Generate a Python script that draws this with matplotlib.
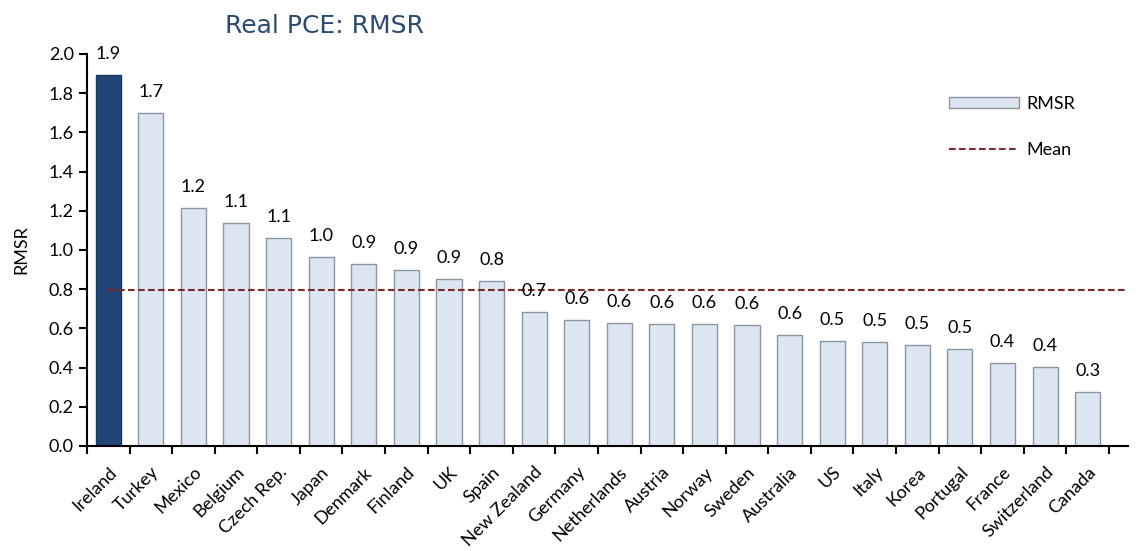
import matplotlib.pyplot as plt
import numpy as np
from matplotlib.patches import Patch
from matplotlib.lines import Line2D

plt.rcParams["font.family"] = ["Lato", "DejaVu Sans"]

countries = [
    "Ireland", "Turkey", "Mexico", "Belgium", "Czech Rep.", "Japan",
    "Denmark", "Finland", "UK", "Spain", "New Zealand", "Germany",
    "Netherlands", "Austria", "Norway", "Sweden", "Australia", "US",
    "Italy", "Korea", "Portugal", "France", "Switzerland", "Canada",
]
rmsr = [
    1.893, 1.699, 1.214, 1.138, 1.061, 0.964,
    0.929, 0.898, 0.852, 0.843, 0.684, 0.643,
    0.628, 0.622, 0.622, 0.617, 0.566, 0.536,
    0.531, 0.515, 0.495, 0.423, 0.403, 0.276,
]
highlight = "Ireland"

light = "#DCE6F2"
dark = "#1F4677"
edge = "#8C949E"
mean_col = "#7B2B2E"
fs = 13

mean_val = np.mean(rmsr)
x = np.arange(len(countries))
x_right = len(countries) - 0.05

fig = plt.figure(figsize=(11.43, 5.51), dpi=100)
ax = fig.add_axes([0.0761, 0.1906, 0.987 - 0.0761, 0.902 - 0.1906])

colors = [dark if c == highlight else light for c in countries]
edges = ["#1A3A63" if c == highlight else edge for c in countries]
ax.bar(x, rmsr, width=0.59, color=colors, edgecolor=edges, linewidth=1.0, zorder=2)
ax.plot([0, x_right], [mean_val, mean_val], color=mean_col, lw=1.5,
        dashes=(3.2, 1.6), zorder=3)

for xi, v in zip(x, rmsr):
    ax.text(xi, v + 0.065, f"{v:.1f}", ha="center", va="bottom", fontsize=fs)

ax.set_xlim(-0.5, x_right)
ax.set_ylim(0, 2.0)
ax.set_yticks(np.arange(0, 2.01, 0.2))
ax.set_yticklabels([f"{t:.1f}" for t in np.arange(0, 2.01, 0.2)], fontsize=fs)
ax.set_xticks(x)
ax.set_xticklabels(countries, rotation=45, ha="right", rotation_mode="anchor",
                   fontsize=fs)
ax.set_xticks(np.arange(-0.5, len(countries), 1), minor=True)
ax.tick_params(axis="x", which="major", length=0, pad=13)
ax.tick_params(axis="x", which="minor", length=6, width=1.5, direction="out")
ax.tick_params(axis="y", length=6, width=1.5, direction="out")
ax.set_ylabel("RMSR", fontsize=fs, labelpad=14)

for s in ["top", "right"]:
    ax.spines[s].set_visible(False)
for s in ["left", "bottom"]:
    ax.spines[s].set_linewidth(1.5)

handles = [
    Patch(facecolor=light, edgecolor=edge, linewidth=1.0),
    Line2D([0], [0], color=mean_col, lw=1.5, dashes=(3.2, 1.6)),
]
ax.legend(handles, ["RMSR", "Mean"], loc="upper left",
          bbox_to_anchor=(0.812, 0.935), frameon=False, fontsize=fs,
          handlelength=3.9, handleheight=0.55, labelspacing=1.65,
          handletextpad=0.4)

fig.text(0.2835, 0.953, "Real PCE: RMSR", ha="center", va="center",
         fontsize=18, color="#2A4A72", family=["DejaVu Sans"])

fig.savefig("out.png", dpi=100)
